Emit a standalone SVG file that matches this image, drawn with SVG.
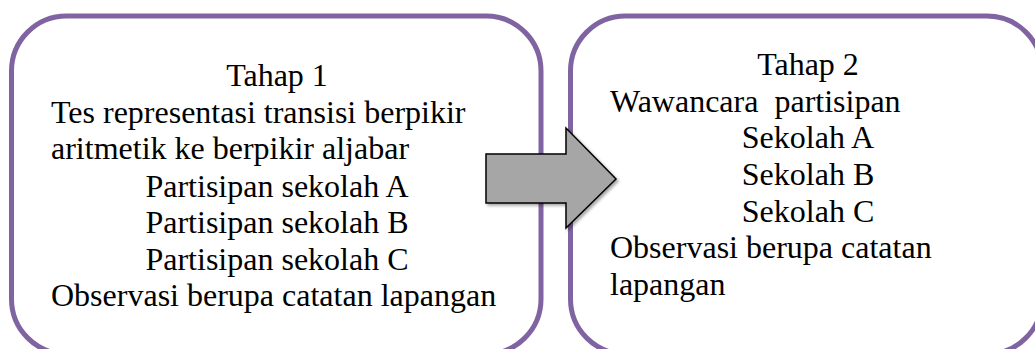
<svg xmlns="http://www.w3.org/2000/svg" width="1035" height="349" viewBox="0 0 1035 349">
  <style>
    .box { fill: #ffffff; stroke: #8064a2; stroke-width: 5; }
    .t { font-size: 32px; fill: #000000; }
    .c { text-anchor: middle; }
    .arrow { fill: #a6a6a6; stroke: #000000; stroke-width: 1.5; stroke-linejoin: miter; }
  </style>
  <defs>
    <filter id="shadow" x="-10%" y="-10%" width="130%" height="130%">
      <feDropShadow dx="2" dy="2" stdDeviation="1.5" flood-color="#000000" flood-opacity="0.35"/>
    </filter>
  </defs>
  <rect width="1035" height="349" fill="#ffffff"/>

  <g id="tahap1" font-family="Liberation Serif" style="font-family: 'Liberation Serif', serif">
    <rect class="box" x="11.5" y="16" width="529.5" height="338" rx="55" ry="55"/>
    <text class="t c" x="277" y="86">Tahap 1</text>
    <text class="t" x="51" y="123">Tes representasi transisi berpikir</text>
    <text class="t" x="51" y="159">aritmetik ke berpikir aljabar</text>
    <text class="t c" x="277" y="197">Partisipan sekolah A</text>
    <text class="t c" x="277" y="233">Partisipan sekolah B</text>
    <text class="t c" x="277" y="270">Partisipan sekolah C</text>
    <text class="t" x="51" y="306">Observasi berupa catatan lapangan</text>
  </g>

  <g id="tahap2" font-family="Liberation Serif" style="font-family: 'Liberation Serif', serif">
    <rect class="box" x="570.5" y="16" width="471.5" height="338" rx="55" ry="55"/>
    <text class="t c" x="808" y="75">Tahap 2</text>
    <text class="t" x="610" y="112" xml:space="preserve">Wawancara  partisipan</text>
    <text class="t c" x="808" y="148">Sekolah A</text>
    <text class="t c" x="808" y="185">Sekolah B</text>
    <text class="t c" x="808" y="222">Sekolah C</text>
    <text class="t" x="610" y="258">Observasi berupa catatan</text>
    <text class="t" x="610" y="295">lapangan</text>
  </g>

  <g id="connectors">
    <polygon class="arrow" filter="url(#shadow)" points="486,154 566,154 566,128 616,179 566,228 566,203 486,203"/>
  </g>
</svg>
